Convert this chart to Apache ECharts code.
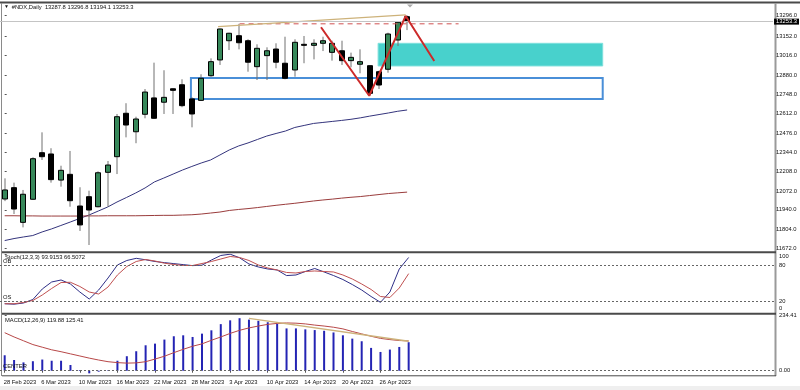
<!DOCTYPE html>
<html><head><meta charset="utf-8">
<script src="https://cdn.jsdelivr.net/npm/echarts@6/dist/echarts.min.js"></script>
<style>html,body{margin:0;padding:0;background:#fff}#c{width:800px;height:390px}</style>
</head><body><div id="c"></div>
<script>
// ---------- data ----------
const dates = ['28 Feb 2023','1 Mar 2023','2 Mar 2023','3 Mar 2023','6 Mar 2023','7 Mar 2023','8 Mar 2023','9 Mar 2023','10 Mar 2023','13 Mar 2023','14 Mar 2023','15 Mar 2023','16 Mar 2023','17 Mar 2023','20 Mar 2023','21 Mar 2023','22 Mar 2023','23 Mar 2023','24 Mar 2023','27 Mar 2023','28 Mar 2023','29 Mar 2023','30 Mar 2023','31 Mar 2023','3 Apr 2023','4 Apr 2023','5 Apr 2023','6 Apr 2023','10 Apr 2023','11 Apr 2023','12 Apr 2023','13 Apr 2023','14 Apr 2023','17 Apr 2023','18 Apr 2023','19 Apr 2023','20 Apr 2023','21 Apr 2023','24 Apr 2023','25 Apr 2023','26 Apr 2023','27 Apr 2023','28 Apr 2023','1 May 2023'];
const opens  = [12016,12095,11853,12014,12339,12330,12148,12188,11967,12032,11962,12202,12311,12614,12485,12607,12721,12691,12785,12813,12714,12704,12876,12986,13120,13155,13120,12939,13016,13062,12963,12916,13095,13088,13102,13039,13050,12981,12956,12946,12904,12921,13125,13287.8];
const highs  = [12160,12130,12079,12307,12481,12370,12248,12351,12098,12074,12209,12281,12609,12684,12590,12783,12967,12914,12787,12851,12725,12886,12997,13205,13176,13238,13130,13095,13074,13102,13148,13130,13153,13130,13148,13120,13120,13037,13060,12946,12911,13176,13253,13296.8];
const lows   = [12001,11911,11818,12010,12288,12130,12102,11962,11793,11695,11958,11962,12190,12446,12405,12579,12575,12609,12609,12656,12516,12700,12869,12951,13055,13060,12904,12846,12846,12928,12851,12869,12963,12990,13048,12981,12951,12935,12893,12737,12783,12897,13083,13194.1];
const closes = [12079,11946,12049,12297,12311,12151,12216,12004,11835,11939,12199,12253,12590,12532,12574,12762,12579,12725,12774,12667,12609,12858,12974,13202,13172,13106,12970,13067,13050,12970,12858,13109,13090,13102,13120,13102,12981,13004,12974,12753,12811,13167,13249,13253.3];
const ma50  = [11726,11740,11751,11761,11786,11807,11831,11855,11880,11904,11932,11960,11995,12026,12058,12093,12135,12162,12190,12218,12243,12267,12288,12323,12358,12386,12407,12431,12455,12473,12490,12515,12529,12543,12550,12557,12564,12572,12582,12594,12605,12616,12628,12637];
const ma200 = [11899,11899,11898,11898,11897,11897,11897,11897,11897,11898,11898,11899,11899,11899,11899,11900,11901,11902,11902,11904,11906,11911,11918,11925,11936,11943,11949,11956,11964,11972,11979,11986,11994,12002,12009,12015,12022,12028,12033,12040,12047,12054,12059,12064];
const stochK = [15.4,14.6,16.6,22.6,40.4,52.3,55.7,48.9,35.3,23.4,38.7,59.1,81.2,88.8,92.5,90.0,87.1,85.2,83.5,81.8,80.1,80.8,89.6,97.3,99.5,93.4,82.9,77.8,74.4,72.7,63.2,64.2,70.1,75.2,69.3,63.3,56.5,48.0,38.7,27.7,17.8,35.3,74.4,93.9153];
const stochD = [15.4,15.4,17.5,20.9,30.2,41.3,51.4,51.8,44.7,35.3,31.9,43.8,64.2,78.6,87.1,90.5,87.9,84.2,82.0,80.3,80.3,83.7,87.1,91.3,95.6,93.9,88.8,81.2,76.1,72.7,68.5,67.6,70.1,71.0,70.1,69.3,64.2,57.4,48.9,39.6,27.7,26.0,42.1,66.5072];
const macd = [65,45,35,40,47,42,42,24,3,-11,-4,2,42,61,82,107,114,131,145,149,142,156,170,196,212,221,215,210,204,197,178,178,174,171,168,161,149,135,124,96,79,89,100,119.88];
const macdSignal = [160,142,126,110,99,88,80,71,62,53,45,38,34,32,33,38,49,61,76,90,103,113,128,142,157,170,180,188,195,199,201,200,197,192,188,183,176,165,155,145,136,131,127,125.41];
const priceTicks = [13296,13152,13016,12880,12748,12612,12476,12344,12208,12072,11940,11804,11672];
const stochTicks = [100,80,20,0];
const macdTicks = [234.41,0];
const dateTickIdx = [0,4,8,12,16,20,24,28,32,36,40];
// drawn objects (bar index, price)
const zigzagIdx = [33.8,38.95,42.85,45.9];
const zigzagPx  = [13214,12736,13293,12979];
const trendIdx = [22.8,42.85];
const trendPx  = [13218,13300];
const levelIdx = [25.1,48.5];
const levelPx  = 13238;
const cyanZone = {x:[39.9,63.9], y:[12944,13102]};
const blueZone = {x:[19.9,63.9], y:[12713,12860]};
const macdTrendIdx = [26,43];
const macdTrendVal = [220,124];

// ---------- chart ----------
const FONT = 'Liberation Sans';
const FS = 5.8;
const xMin = -0.5, xMax = 82.1;
const gridL = -1.2, gridR = 24;
const chart = echarts.init(document.getElementById('c'), null, {renderer:'canvas'});

function xAx(g, labels){
  const a = {type:'value', gridIndex:g, min:xMin, max:xMax, splitLine:{show:false},
    axisLine:{show:false}, axisTick:{show:false}, axisLabel:{show:false}};
  if (labels){
    a.axisLabel = {show:true, customValues:dateTickIdx, formatter:v=>dates[v]||'', fontSize:FS,
      fontFamily:FONT, color:'#111', align:'left', margin:4, padding:[0,0,0,-1]};
    a.axisTick = {show:true, customValues:dateTickIdx, length:2, lineStyle:{color:'#555'}};
  }
  return a;
}
function yAx(g, min, max, ticks, fmt, rich){
  const a = {type:'value', gridIndex:g, min, max, position:'right', splitLine:{show:false},
    axisLine:{show:false},
    axisTick:{show:true, customValues:ticks, length:2, inside:false, lineStyle:{color:'#555'}},
    axisLabel:{show:true, customValues:ticks, formatter:fmt, fontSize:FS, fontFamily:FONT, color:'#111', margin:3}};
  if (rich) a.axisLabel.rich = rich;
  return a;
}
const pair = (arr)=>arr.map((v,i)=>[i,v]);

function renderCandle(params, api){
  const i=api.value(0), o=api.value(1), c=api.value(2), l=api.value(3), h=api.value(4);
  const pH=api.coord([i,h]), pL=api.coord([i,l]), pO=api.coord([i,o]), pC=api.coord([i,c]);
  const x=Math.round(pH[0]);
  const top=Math.min(pO[1],pC[1]), bot=Math.max(pO[1],pC[1]);
  const up=c>=o;
  return {type:'group', children:[
    {type:'line', shape:{x1:x, y1:pH[1], x2:x, y2:pL[1]}, style:{stroke:'#707070', lineWidth:1}},
    {type:'rect', shape:{x:x-2.5, y:top, width:5, height:Math.max(bot-top,1)},
      style:{fill: up?'#37885a':'#000', stroke:'#000', lineWidth:1}}
  ]};
}

const stochRich = {
  t:{fontSize:FS, fontFamily:FONT, color:'#111', padding:[4,0,0,0]},
  b:{fontSize:FS, fontFamily:FONT, color:'#111', padding:[0,0,8,0]}
};

const option = {
  animation:false,
  backgroundColor:'#fff',
  grid:[
    {left:gridL, right:gridR, top:3, height:248.5},
    {left:gridL, right:gridR, top:253.9, height:58.9},
    {left:gridL, right:gridR, top:315, height:60}
  ],
  xAxis:[xAx(0,false), xAx(1,false), xAx(2,true)],
  yAxis:[
    yAx(0, 11649.7, 13383.2, priceTicks, v=>v.toFixed(1)),
    yAx(1, 0, 100, stochTicks, v=>v===100?'{t|100}':(v===0?'{b|0}':String(v)), stochRich),
    yAx(2, -18, 234.41, macdTicks, v=>v===0?'0.00':v.toFixed(2))
  ],
  series:[
    {type:'line', xAxisIndex:0, yAxisIndex:0, data:[], z:1, silent:true,
      markArea:{silent:true, data:[
        [{coord:[cyanZone.x[0],cyanZone.y[1]], itemStyle:{color:'#48d1cc', borderColor:'#7fe0dc', borderWidth:1}},
         {coord:[cyanZone.x[1],cyanZone.y[0]]}],
        [{coord:[blueZone.x[0],blueZone.y[1]], itemStyle:{color:'rgba(0,0,0,0)', borderColor:'#4a8fd8', borderWidth:2}},
         {coord:[blueZone.x[1],blueZone.y[0]]}]
      ]}},
    {type:'line', xAxisIndex:0, yAxisIndex:0, data:pair(ma50), showSymbol:false, z:2,
      lineStyle:{color:'#34347c', width:1}},
    {type:'line', xAxisIndex:0, yAxisIndex:0, data:pair(ma200), showSymbol:false, z:2,
      lineStyle:{color:'#9a3c3c', width:1}},
    {type:'custom', xAxisIndex:0, yAxisIndex:0, z:3, renderItem:renderCandle,
      encode:{x:0, y:[1,2,3,4]},
      data:dates.map((d,i)=>[i,opens[i],closes[i],lows[i],highs[i]]),
      markLine:{silent:true, symbol:'none', data:[{yAxis:closes[closes.length-1]}],
        lineStyle:{color:'#c4c4c4', width:1, type:'solid'},
        label:{show:true, position:'end', distance:1, formatter:v=>v.value.toFixed(1),
          backgroundColor:'#000', color:'#fff', fontSize:FS, fontFamily:FONT, padding:[0,2,0,2]}}},
    {type:'line', xAxisIndex:0, yAxisIndex:0, z:4, showSymbol:false,
      data:levelIdx.map(x=>[x,levelPx]), lineStyle:{color:'#d05050', width:1, type:[5,4]},
      markPoint:{silent:true, symbol:'none', data:[{coord:[27.05,13283], value:String(levelPx)}],
        label:{show:true, formatter:'13238', color:'#111', fontSize:7, fontFamily:FONT}}},
    {type:'line', xAxisIndex:0, yAxisIndex:0, z:4, showSymbol:false,
      data:trendIdx.map((x,i)=>[x,trendPx[i]]), lineStyle:{color:'#cdb27a', width:1.3}},
    {type:'line', xAxisIndex:0, yAxisIndex:0, z:5, showSymbol:false,
      data:zigzagIdx.map((x,i)=>[x,zigzagPx[i]]), lineStyle:{color:'#cc2a2a', width:2}},
    {type:'line', xAxisIndex:1, yAxisIndex:1, data:pair(stochK), showSymbol:false,
      lineStyle:{color:'#2e2e86', width:1},
      markLine:{silent:true, symbol:'none', lineStyle:{color:'#666', width:1, type:[2,2]},
        label:{show:true, position:'insideStartTop', distance:[3,1], color:'#111', fontSize:FS, fontFamily:FONT},
        data:[{yAxis:80, label:{formatter:'OB'}},{yAxis:20, label:{formatter:'OS'}}]}},
    {type:'line', xAxisIndex:1, yAxisIndex:1, data:pair(stochD), showSymbol:false,
      lineStyle:{color:'#c05050', width:1}},
    {type:'bar', xAxisIndex:2, yAxisIndex:2, data:pair(macd), barWidth:2,
      itemStyle:{color:'#2424b4'},
      markLine:{silent:true, symbol:'none', lineStyle:{color:'#666', width:1, type:[2,2]},
        label:{show:true, position:'insideStartTop', distance:[3,1], color:'#111', fontSize:FS, fontFamily:FONT, formatter:'CENTER'},
        data:[{yAxis:0}]}},
    {type:'line', xAxisIndex:2, yAxisIndex:2, data:pair(macdSignal), showSymbol:false,
      lineStyle:{color:'#b84848', width:1}},
    {type:'line', xAxisIndex:2, yAxisIndex:2, showSymbol:false,
      data:macdTrendIdx.map((x,i)=>[x,macdTrendVal[i]]), lineStyle:{color:'#cdb27a', width:1.3}}
  ],
  graphic:[
    {type:'rect', shape:{x:0,y:386,width:800,height:4}, style:{fill:'#efefef'}, silent:true},
    {type:'line', shape:{x1:0,y1:2.5,x2:800,y2:2.5}, style:{stroke:'#4a4a4a', lineWidth:2}, silent:true},
    {type:'line', shape:{x1:1.5,y1:3,x2:1.5,y2:376}, style:{stroke:'#8a8a8a', lineWidth:1}, silent:true},
    {type:'line', shape:{x1:775.5,y1:3,x2:775.5,y2:376}, style:{stroke:'#9a9a9a', lineWidth:2}, silent:true},
    {type:'line', shape:{x1:2,y1:252.2,x2:776,y2:252.2}, style:{stroke:'#4a4a4a', lineWidth:2}, silent:true},
    {type:'line', shape:{x1:2,y1:313.8,x2:776,y2:313.8}, style:{stroke:'#4a4a4a', lineWidth:2}, silent:true},
    {type:'line', shape:{x1:2,y1:375.8,x2:776,y2:375.8}, style:{stroke:'#4a4a4a', lineWidth:1}, silent:true},
    {type:'polygon', shape:{points:[[407,4.5],[413,4.5],[410,7.5]]}, style:{fill:'#aaaaaa'}, silent:true},
    {type:'text', x:4, y:4.5, style:{text:'▼', fontSize:5, fill:'#111', fontFamily:FONT}, silent:true},
    {type:'text', x:11.7, y:4.2, style:{text:'#NDX,Daily  13287.8 13296.8 13194.1 13253.3', fontSize:FS, fill:'#111', fontFamily:FONT}, silent:true},
    {type:'text', x:5, y:254.8, style:{text:'Stoch(12,3,3) 93.9153 66.5072', fontSize:FS, fill:'#111', fontFamily:FONT}, silent:true},
    {type:'text', x:5, y:317, style:{text:'MACD(12,26,9) 119.88 125.41', fontSize:FS, fill:'#111', fontFamily:FONT}, silent:true}
  ]
};
chart.setOption(option);
</script></body></html>
